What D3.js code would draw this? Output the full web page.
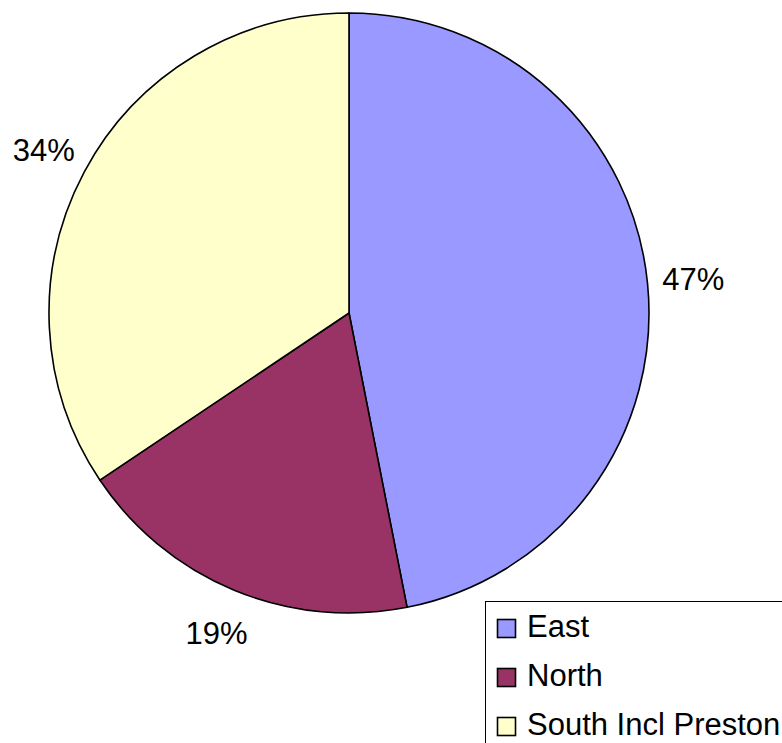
<!DOCTYPE html>
<html>
<head>
<meta charset="utf-8">
<script src="https://cdn.jsdelivr.net/npm/d3@7"></script>
<style>
  body { margin: 0; background: #fff; }
  svg { display: block; font-family: "Liberation Sans", Arial, sans-serif; }
</style>
</head>
<body>
<svg id="chart" width="782" height="743"></svg>
<script>
const regions = ["East", "North", "South Incl Preston"];
const shares = [46.9, 18.7, 34.4];
const colors = ["#9999FF", "#993366", "#FFFFCC"];

const center = {x: 349, y: 313};
const radius = 300;
const labelRadius = 346;

const svg = d3.select("#chart");

const data = regions.map((r, i) => ({name: r, value: shares[i], color: colors[i]}));

const pie = d3.pie().sort(null).value(d => d.value);
const arcs = pie(data);

const arc = d3.arc().innerRadius(0).outerRadius(radius);
const labelArc = d3.arc().innerRadius(labelRadius).outerRadius(labelRadius);

const g = svg.append("g")
  .attr("transform", `translate(${center.x},${center.y})`);

g.selectAll("path")
  .data(arcs)
  .enter()
  .append("path")
  .attr("d", arc)
  .attr("fill", d => d.data.color)
  .attr("stroke", "#000")
  .attr("stroke-width", 1.6)
  .attr("stroke-linejoin", "round");

const total = d3.sum(shares);
g.selectAll("text.pct")
  .data(arcs)
  .enter()
  .append("text")
  .attr("class", "pct")
  .attr("transform", d => `translate(${labelArc.centroid(d)})`)
  .attr("text-anchor", "middle")
  .attr("dy", "0.35em")
  .attr("font-size", 31)
  .attr("fill", "#000")
  .text(d => Math.round(d.data.value / total * 100) + "%");

// legend
const legend = svg.append("g").attr("transform", "translate(485,601)");

legend.append("rect")
  .attr("x", 0.5)
  .attr("y", 0.5)
  .attr("width", 310)
  .attr("height", 160)
  .attr("fill", "#fff")
  .attr("stroke", "#000")
  .attr("stroke-width", 1);

const rowY = d3.scalePoint().domain(regions).range([36, 134]);

const items = legend.selectAll("g.item")
  .data(data)
  .enter()
  .append("g")
  .attr("class", "item")
  .attr("transform", d => `translate(0,${rowY(d.name)})`);

items.append("rect")
  .attr("x", 12.5)
  .attr("y", -17.5)
  .attr("width", 18)
  .attr("height", 18)
  .attr("fill", d => d.color)
  .attr("stroke", "#000")
  .attr("stroke-width", 1.6);

items.append("text")
  .attr("x", 42)
  .attr("y", 0)
  .attr("font-size", 31)
  .attr("fill", "#000")
  .text(d => d.name);
</script>
</body>
</html>
